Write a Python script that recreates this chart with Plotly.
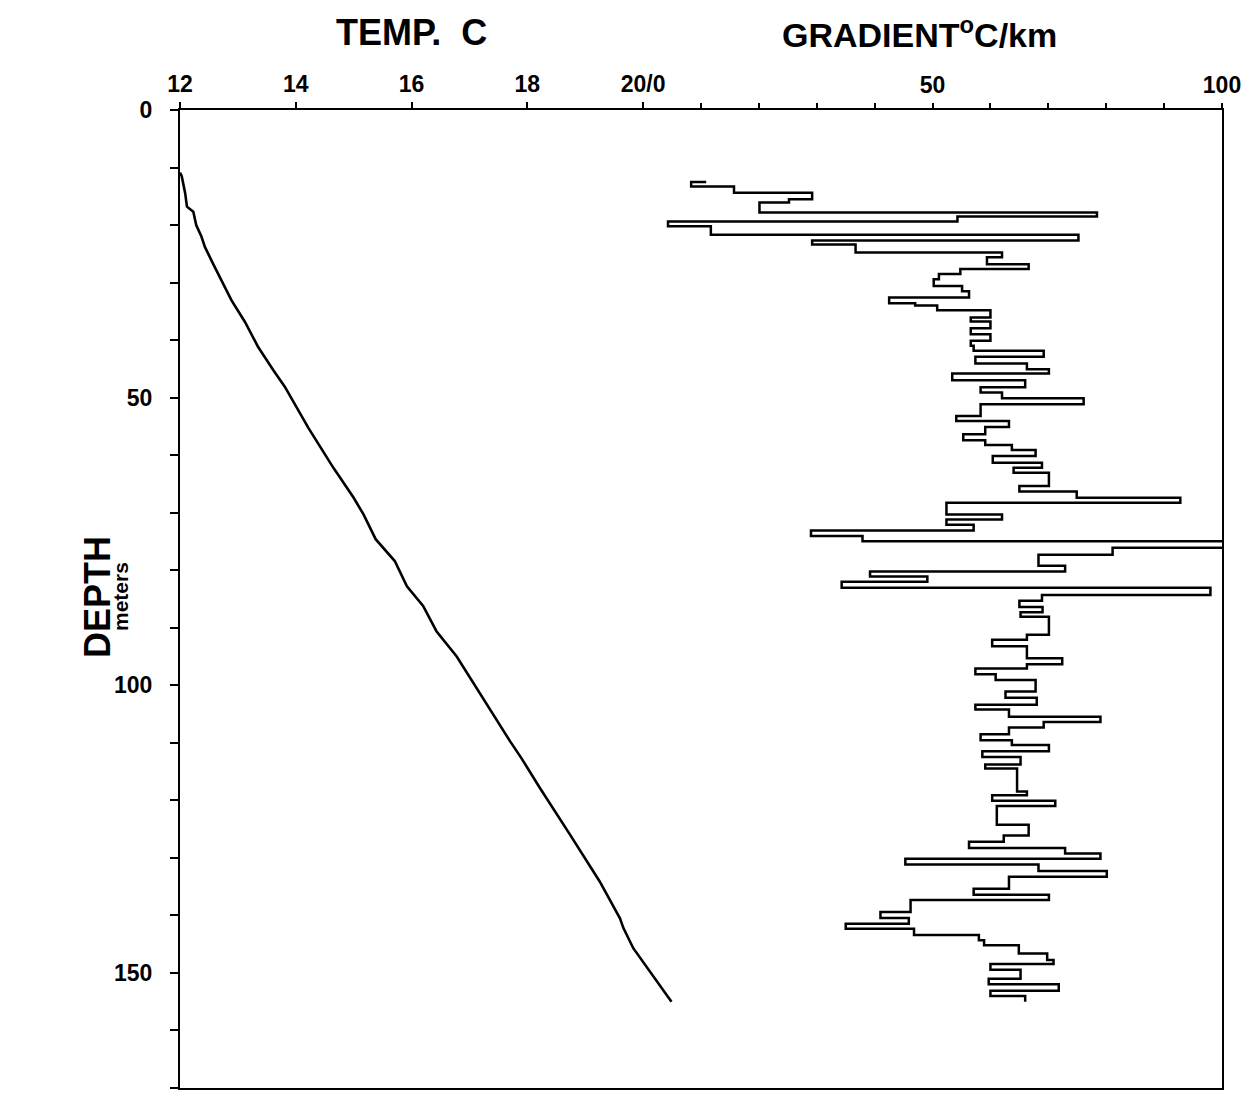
import plotly.graph_objects as go

# Temperature profile (depth m, temperature C)
temp_depth = [10.9, 11.5, 14.5, 16.8, 17.7, 20.0, 22.0, 23.8, 26.7, 29.6, 33.1, 36.8,
              41.2, 45.2, 48.1, 51.6, 55.3, 62.2, 67.4, 70.3, 74.6, 78.4, 82.8, 86.2,
              90.6, 95.0, 103.4, 109.7, 112.7, 117.9, 126.0, 134.1, 140.5, 142.2,
              145.7, 150.4, 155.0]
temp_c = [12.0, 12.03, 12.09, 12.12, 12.23, 12.28, 12.37, 12.43, 12.57, 12.72, 12.89, 13.12,
          13.35, 13.61, 13.81, 14.01, 14.22, 14.65, 15.0, 15.17, 15.38, 15.71, 15.92, 16.2,
          16.43, 16.78, 17.30, 17.70, 17.90, 18.22, 18.74, 19.25, 19.6, 19.66,
          19.83, 20.17, 20.49]

# Gradient step profile: value held from this top depth to the next one
grad_top_depth = [12.5, 12.5, 13.3, 14.4, 15.5, 16.1, 17.8, 18.5, 19.4, 20.2, 21.7, 22.7,
                  23.4, 24.75, 25.6, 26.8, 27.65, 28.5, 29.4, 30.6, 31.5, 32.6, 33.6, 34.0,
                  34.8, 36.06, 36.76, 37.92, 38.96, 40.12, 41.0, 41.86, 42.9, 44.07, 45.05,
                  45.8, 46.97, 48.2, 49.1, 50.1, 51.15, 53.18, 54.05, 55.09, 56.37, 57.41,
                  58.25, 59.1, 60.14, 61.3, 62.17, 63.04, 65.36, 66.3, 67.4, 68.26, 70.3,
                  71.2, 72.1, 73.08, 74.07, 74.94, 76.1, 77.3, 79.2, 80.2, 81.1, 82.0,
                  83.06, 84.3, 85.3, 86.37, 87.3, 88.1, 91.2, 92.1, 93.2, 95.3, 96.35,
                  97.1, 98.1, 99.1, 101.1, 102.15, 103.4, 104.2, 105.45, 106.4, 107.35,
                  108.5, 109.55, 110.4, 111.45, 112.45, 113.75, 114.45, 118.45, 119.1,
                  120.05, 121.0, 124.25, 126.1, 127.2, 128.3, 129.25, 130.17, 131.15,
                  132.3, 133.3, 135.35, 136.4, 137.31, 139.4, 140.45, 141.45, 142.3,
                  143.4, 144.3, 145.2, 146.6, 147.75, 148.45, 149.45, 151.0, 151.95,
                  153.1, 154.0, 155.0]
grad_value = [10.9, 8.3, 15.7, 29.2, 25.2, 20.1, 78.4, 54.3, 4.3, 11.7, 75.2, 29.2,
              36.7, 62.0, 59.4, 66.6, 54.8, 51.1, 50.2, 55.1, 56.3, 42.5, 47.0, 50.8,
              60.0, 56.6, 60.0, 56.6, 60.0, 56.6, 57.1, 69.2, 57.4, 66.3, 70.1,
              53.4, 66.0, 58.3, 62.0, 76.1, 58.3, 54.1, 63.2, 59.1, 55.3, 59.1,
              63.7, 67.8, 60.4, 68.9, 64.0, 70.1, 65.0, 74.9, 92.8, 52.4, 62.0,
              52.4, 57.1, 29.0, 37.9, 101.0, 81.1, 68.3, 72.9, 39.2, 49.1, 34.3,
              98.0, 68.9, 65.0, 69.0, 65.2, 70.1, 66.3, 60.3, 66.3, 72.4, 66.3,
              57.4, 60.9, 67.8, 62.6, 68.0, 57.4, 63.2, 79.0, 69.2, 63.2,
              58.3, 63.7, 70.1, 58.6, 65.2, 59.1, 64.6, 66.3, 60.3,
              71.2, 61.1, 66.6, 62.3, 56.3, 72.9, 79.0, 45.3, 68.3,
              80.1, 63.2, 57.1, 70.1, 46.2, 41.0, 45.9, 35.0, 46.8,
              58.0, 58.9, 64.9, 69.8, 70.9, 60.0, 65.2, 59.7, 71.8,
              60.0, 66.0, 66.0]

temp_ticks = [12, 14, 16, 18, 20]
temp_labels = ["12", "14", "16", "18", "20/0"]
grad_ticks = [50, 100]
grad_labels = ["50", "100"]
grad_minor_ticks = [0, 10, 20, 30, 40, 60, 70, 80, 90]
depth_ticks = [0, 50, 100, 150]
depth_labels = ["0", "50", "100", "150"]

FONT = "Liberation Sans, Arial, Helvetica, sans-serif"

# page body has an 8px margin; place plot area at screen x 180..1222, y 110..1088
OFF = 8
W, H = 1240, 1084
L, T = 180 - OFF, 110 - OFF
PW, PH = 1222 - 180, 1088 - 110
R = W - L - PW
B = H - T - PH

fig = go.Figure()
fig.add_trace(go.Scatter(x=temp_c, y=temp_depth, mode="lines",
                         line=dict(color="black", width=2.6), xaxis="x", yaxis="y",
                         showlegend=False))
fig.add_trace(go.Scatter(x=grad_value, y=grad_top_depth, mode="lines",
                         line=dict(color="black", width=2.5, shape="vh"),
                         xaxis="x2", yaxis="y", showlegend=False))

tick_font = dict(family=FONT, size=23, color="black", weight="bold")

fig.update_layout(
    width=W, height=H,
    margin=dict(l=L, r=R, t=T, b=B, autoexpand=False),
    paper_bgcolor="white", plot_bgcolor="white",
    xaxis=dict(range=[12, 30], side="top", tickvals=temp_ticks, ticktext=temp_labels,
               ticks="outside", ticklen=6, tickwidth=2, tickcolor="black",
               showline=True, linewidth=2, linecolor="black", mirror=True,
               showgrid=False, zeroline=False, tickfont=tick_font, ticklabelstandoff=1),
    xaxis2=dict(range=[-80, 100], side="top", overlaying="x", anchor="y",
                tickvals=grad_ticks, ticktext=grad_labels,
                ticks="outside", ticklen=6, tickwidth=2, tickcolor="black",
                minor=dict(tickmode="array", tickvals=grad_minor_ticks, ticks="outside",
                           ticklen=6, tickwidth=2, tickcolor="black"),
                showline=False, showgrid=False, zeroline=False, tickfont=tick_font,
                ticklabelstandoff=1),
    yaxis=dict(range=[170, 0], tickvals=depth_ticks, ticktext=depth_labels,
               ticks="outside", ticklen=8, tickwidth=2, tickcolor="black",
               minor=dict(dtick=10, tick0=0, ticks="outside", ticklen=8, tickwidth=2,
                          tickcolor="black"),
               showline=True, linewidth=2, linecolor="black", mirror=True,
               showgrid=False, zeroline=False, tickfont=tick_font, ticklabelstandoff=13),
)

# titles placed by screen pixel centre
titles = [
    ("<b>TEMP.  C</b>", 411, 32, 36, 0),
    ("<b>GRADIENT<sup>o</sup>C/km</b>", 919, 33, 34, 0),
    ("<b>DEPTH</b>", 97, 597, 36, -90),
    ("<b>meters</b>", 120, 597, 21, -90),
]
anns = []
for text, sx, sy, size, ang in titles:
    anns.append(dict(text=text, xref="paper", yref="paper",
                     x=(sx - OFF - L) / PW, y=1 - (sy - OFF - T) / PH,
                     xanchor="center", yanchor="middle", textangle=ang,
                     showarrow=False, font=dict(family=FONT, size=size, color="black")))
fig.update_layout(annotations=anns)

fig.write_html("out.html")
